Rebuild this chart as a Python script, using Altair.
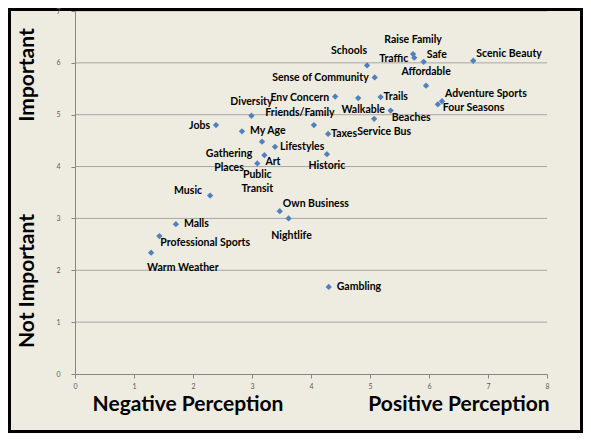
import altair as alt
import pandas as pd

# ---- data ----
factors = ["Raise Family", "Traffic", "Safe", "Schools", "Scenic Beauty",
           "Sense of Community", "Affordable", "Env Concern", "Walkable", "Trails",
           "Beaches", "Service Bus", "Adventure Sports", "Four Seasons", "Diversity",
           "Friends/Family", "Jobs", "My Age", "Taxes", "Gathering\nPlaces",
           "Lifestyles", "Art", "Historic", "Public\nTransit", "Music",
           "Own Business", "Nightlife", "Malls", "Professional Sports", "Warm Weather",
           "Gambling"]
perception = [5.73, 5.75, 5.91, 4.95, 6.75,
              5.08, 5.95, 4.41, 4.80, 5.18,
              5.35, 5.07, 6.22, 6.15, 2.99,
              4.05, 2.39, 2.83, 4.29, 3.17,
              3.39, 3.21, 4.27, 3.09, 2.29,
              3.47, 3.62, 1.71, 1.43, 1.29,
              4.30]
importance = [6.17, 6.10, 6.02, 5.95, 6.04,
              5.72, 5.56, 5.35, 5.32, 5.34,
              5.08, 4.92, 5.26, 5.20, 4.98,
              4.80, 4.80, 4.68, 4.63, 4.48,
              4.38, 4.22, 4.24, 4.06, 3.44,
              3.14, 3.00, 2.89, 2.66, 2.34,
              1.68]
# label placement (like Excel's data-label position)
label_pos = ["above", "left", "right_up", "above_left", "right_up",
             "left", "above", "left", "below_r1", "right_near",
             "below_right", "below_r2", "right_up", "right_down", "above",
             "above_shift_left", "left", "right_far", "right_near", "left_down",
             "right", "below_right", "below", "below", "left_up",
             "right_up", "below_far", "right_far", "below_right", "below_right_far",
             "right_far"]
x_ticks = [0, 1, 2, 3, 4, 5, 6, 7, 8]
y_ticks = [0, 1, 2, 3, 4, 5, 6, 7]

# ---- layout / style ----
W, H = 472, 363
PAD = {"left": 67, "top": 3, "right": 36, "bottom": 59}
TOTAL_W = W + PAD["left"] + PAD["right"]
TOTAL_H = H + PAD["top"] + PAD["bottom"]
BG = "#EEECE1"
BLUE = "#4F81BD"
FONT = "Lato"

df = pd.DataFrame({"factor": factors, "perception": perception,
                   "importance": importance, "pos": label_pos})

xscale = alt.Scale(domain=[0, 8], nice=False, zero=False)
yscale = alt.Scale(domain=[0, 7], nice=False, zero=False)
xaxis = alt.Axis(values=x_ticks, grid=False, title=None, domainColor="#868686",
                 tickColor="#868686", tickSize=4, labelFontSize=7, labelFont=FONT,
                 labelColor="#595959", labelPadding=4, labelFlush=False)
yaxis = alt.Axis(values=y_ticks, grid=False, title=None, domainColor="#868686",
                 tickColor="#868686", tickSize=4, labelFontSize=7, labelFont=FONT,
                 labelColor="#595959", labelPadding=11, zindex=1)

X = alt.X("perception:Q", scale=xscale, axis=xaxis)
Y = alt.Y("importance:Q", scale=yscale, axis=yaxis)

grid = alt.Chart(pd.DataFrame({"importance": y_ticks[1:]})).mark_rule(
    color="#A6A6A6", strokeWidth=1
).encode(y=Y)

points = alt.Chart(df).mark_point(
    shape="diamond", filled=True, size=40, color=BLUE, opacity=1
).encode(x=X, y=Y)

offsets = {
    "right": dict(align="left", baseline="middle", dx=5, dy=0),
    "right_near": dict(align="left", baseline="middle", dx=3, dy=0),
    "right_far": dict(align="left", baseline="middle", dx=8, dy=0),
    "right_down": dict(align="left", baseline="middle", dx=5, dy=4),
    "left": dict(align="right", baseline="middle", dx=-6, dy=1),
    "above": dict(align="center", baseline="bottom", dx=0, dy=-9),
    "above_shift_left": dict(align="center", baseline="bottom", dx=-14, dy=-7),
    "below": dict(align="center", baseline="top", dx=0, dy=7),
    "below_far": dict(align="center", baseline="top", dx=3, dy=13),
    "below_r1": dict(align="center", baseline="top", dx=5, dy=7),
    "below_r2": dict(align="center", baseline="top", dx=10, dy=8),
    "right_up": dict(align="left", baseline="middle", dx=3, dy=-7),
    "above_left": dict(align="right", baseline="bottom", dx=0, dy=-9),
    "below_right": dict(align="left", baseline="top", dx=1, dy=2),
    "below_right_far": dict(align="left", baseline="top", dx=-4, dy=10),
    "left_down": dict(align="center", baseline="middle", dx=-33, dy=12),
    "left_up": dict(align="right", baseline="middle", dx=-8, dy=-5),
}

label_layers = []
for key, o in offsets.items():
    label_layers.append(
        alt.Chart(df).transform_filter(alt.datum.pos == key).mark_text(
            font=FONT, fontWeight="bold", fontSize=10.5, color="#000000",
            lineBreak="\n", lineHeight=14, **o
        ).encode(x=X, y=Y, text="factor:N")
    )

one = pd.DataFrame({"k": [0]})


def title_text(txt, x, y, angle=0):
    kw = dict(font=FONT, fontWeight="bold", fontSize=21, color="#000000",
              align="center", baseline="alphabetic", text=txt)
    if angle:
        kw["angle"] = angle
    return alt.Chart(one).mark_text(**kw).encode(x=alt.value(x), y=alt.value(y))


titles = [
    title_text("Negative Perception", 113, 400),
    title_text("Positive Perception", 384, 400),
    title_text("Important", -41, 64, 270),
    title_text("Not Important", -41, 270, 270),
]

frame = alt.Chart(one).mark_rect(
    fillOpacity=0, stroke="#000000", strokeWidth=3
).encode(
    x=alt.value(-PAD["left"] + 1.5), x2=alt.value(TOTAL_W - PAD["left"] - 1.5),
    y=alt.value(-PAD["top"] + 1.5), y2=alt.value(TOTAL_H - PAD["top"] - 1.5),
)

chart = alt.layer(grid, points, *label_layers, *titles, frame).properties(
    width=W, height=H, padding=PAD, autosize=alt.AutoSizeParams(type="none"),
    background=BG,
).configure_view(strokeWidth=0)

chart.save("out.html", embed_options={"renderer": "svg", "actions": False})
